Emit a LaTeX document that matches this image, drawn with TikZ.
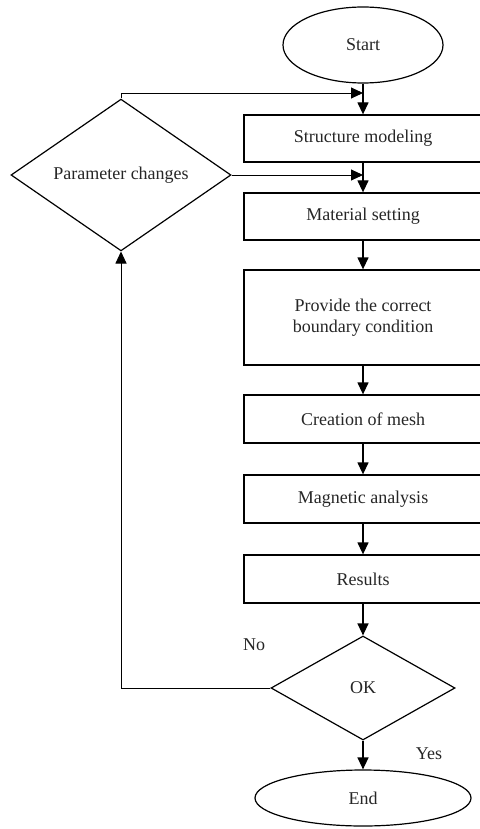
\documentclass[tikz,border=0pt]{standalone}
\usepackage{fontspec}
\setmainfont{Liberation Serif}
\usetikzlibrary{shapes.geometric,arrows.meta}

\begin{document}
\begin{tikzpicture}[x=1pt, y=-1pt,
    every node/.style={font=\fontsize{18}{21}\selectfont, text=black!85},
    proc/.style={draw, line width=1.3pt, minimum width=238pt, inner sep=0pt, align=center},
    term/.style={draw, ellipse, line width=1.2pt, inner sep=0pt},
    test/.style={draw, diamond, line width=1.2pt, inner sep=0pt},
    arr/.style={-{Triangle[length=12pt, width=11pt]}, line width=1.3pt},
    back/.style={line width=0.9pt}]

    \useasboundingbox (0,0) rectangle (479,829);

    \node[term, minimum width=160pt, minimum height=76pt] (start) at (363,45) {Start};
    \node[proc, minimum height=47pt] (model) at (363,138.5) {Structure modeling};
    \node[proc, minimum height=47pt] (mat) at (363,216.5) {Material setting};
    \node[proc, minimum height=95pt] (bound) at (363,317.5) {Provide the correct\\boundary condition};
    \node[proc, minimum height=48pt] (mesh) at (363,419) {Creation of mesh};
    \node[proc, minimum height=48pt] (magn) at (363,499) {Magnetic analysis};
    \node[proc, minimum height=48pt] (res) at (363,579) {Results};
    \node[test, minimum width=184pt, minimum height=104pt] (ok) at (363,688) {OK};
    \node[term, minimum width=216pt, minimum height=56pt] (end) at (363,798) {End};

    \node[test, minimum width=220pt, minimum height=131pt] (param) at (121,175) {Parameter changes};

    \node (no) at (254,645) {No};
    \node (yes) at (429,754) {Yes};

    \coordinate (j1) at (363,93);
    \coordinate (j2) at (363,175);

    \draw[arr] (start) -- (model);
    \draw[arr] (model) -- (mat);
    \draw[arr] (mat) -- (bound);
    \draw[arr] (bound) -- (mesh);
    \draw[arr] (mesh) -- (magn);
    \draw[arr] (magn) -- (res);
    \draw[arr] (res) -- (ok);
    \draw[arr] (ok) -- (end);

    \draw[back, arr, line width=0.9pt] (param.north) |- (j1);
    \draw[back, arr, line width=0.9pt] (param.east) -- (j2);
    \draw[back, arr, line width=0.9pt] (ok.west) -| (param.south);

\end{tikzpicture}
\end{document}
